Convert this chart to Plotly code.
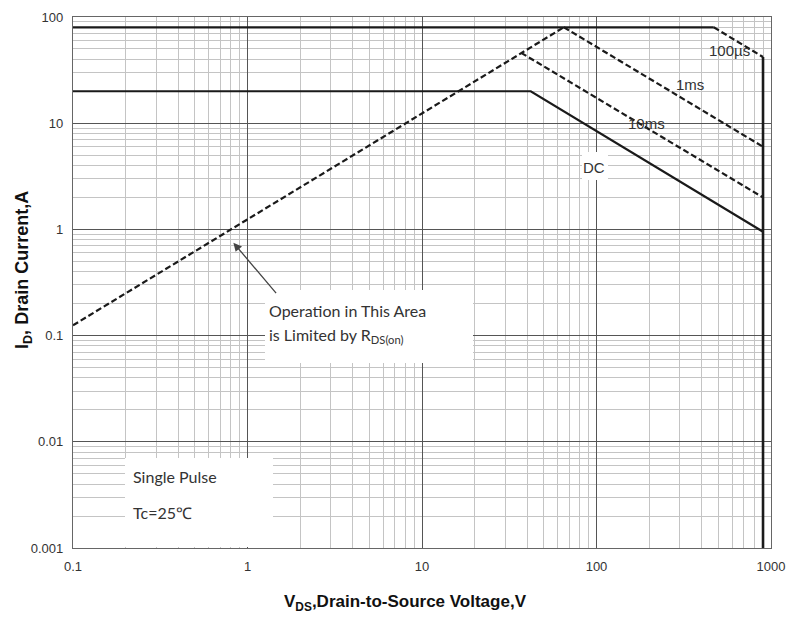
import math
import plotly.graph_objects as go

# ---- data ----
rds_v = [0.1, 65]
rds_i = [0.125, 80]

us100_flat_v = [0.1, 470]
us100_flat_i = [80, 80]
us100_drop_v = [470, 900]
us100_drop_i = [80, 42]

ms1_v = [65, 900]
ms1_i = [80, 6]

ms10_v = [37, 900]
ms10_i = [46, 2]

dc_v = [0.1, 42, 900]
dc_i = [20, 20, 0.95]

bv_v = [900, 900]
bv_i = [42, 0.001]

x_ticks = [0.1, 1, 10, 100, 1000]
x_ticktext = ["0.1", "1", "10", "100", "1000"]
y_ticks = [0.001, 0.01, 0.1, 1, 10, 100]
y_ticktext = ["0.001", "0.01", "0.1", "1", "10", "100"]

labels = ["100µs", "1ms", "10ms", "DC"]
label_v = [582, 343, 194, 97]
label_i = [48.9, 22.9, 10.0, 3.8]

LINE = "#1a1a1a"
DASH = "6px,3px"
fig = go.Figure()

def add(x, y, dash="solid", w=2.2):
    fig.add_trace(go.Scatter(x=x, y=y, mode="lines",
                             line=dict(color=LINE, width=w, dash=dash),
                             showlegend=False, hoverinfo="skip"))

add(rds_v, rds_i, dash=DASH)
add(us100_flat_v, us100_flat_i)
add(us100_drop_v, us100_drop_i, dash=DASH)
add(ms1_v, ms1_i, dash=DASH)
add(ms10_v, ms10_i, dash=DASH)
add(dc_v, dc_i)
add(bv_v, bv_i, w=2.6)

L, R, T, B = 73, 18, 17, 75
W, H = 789, 623
pw, ph = W - L - R, H - T - B
XR = (-1, 3)
YR = (-3, 2)

def px(xp):
    return (xp - L) / pw

def py(yp):
    return (H - B - yp) / ph

def xd(xp):  # pixel -> data value on the log x axis
    return 10 ** (XR[0] + px(xp) * (XR[1] - XR[0]))

def yd(yp):
    return 10 ** (YR[0] + py(yp) * (YR[1] - YR[0]))

# white boxes, drawn between the gridlines and the traces
def box(x0, x1, y0, y1):
    fig.add_shape(type="rect", xref="x", yref="y", layer="between",
                  x0=xd(x0), x1=xd(x1), y0=yd(y1), y1=yd(y0),
                  fillcolor="white", line=dict(width=0))

box(265, 473, 290, 363)
box(125, 273, 458, 547)
box(582, 608, 152, 180)

lab_font = dict(family="Liberation Sans Narrow, Liberation Sans, Arial", size=15, color="#333")
for t, xv, yv in zip(labels, label_v, label_i):
    fig.add_annotation(x=math.log10(xv), y=math.log10(yv), xref="x", yref="y",
                       text=t, showarrow=False, font=lab_font)

note_font = dict(family="Lato, Open Sans, sans-serif", size=16, color="#333")

def note(xp, yp, text):
    fig.add_annotation(xref="paper", yref="paper", x=px(xp), y=py(yp),
                       xanchor="left", yanchor="middle",
                       text=text, showarrow=False, font=note_font)

note(267, 310, "Operation in This Area")
note(267, 335, "is Limited by R<sub>DS(on)</sub>")
note(131, 477, "Single Pulse")
note(131, 512, "Tc=25℃")

# arrow pointing to the RDS(on) line
fig.add_annotation(x=math.log10(0.83), y=math.log10(0.75), xref="x", yref="y",
                   text="", showarrow=True, arrowhead=2, arrowsize=1.3, arrowwidth=1.3,
                   arrowcolor="#444", ax=44, ay=52, axref="pixel", ayref="pixel")

# axis titles
fig.add_annotation(xref="paper", yref="paper", x=px(405), y=py(603),
                   xanchor="center", yanchor="middle",
                   text="V<sub>DS</sub>,Drain-to-Source Voltage,V", showarrow=False,
                   font=dict(family="Liberation Sans, Arial", size=17, color="#111", weight="bold"))
fig.add_annotation(xref="paper", yref="paper", x=px(23), y=py(270), textangle=-90,
                   xanchor="center", yanchor="middle",
                   text="I<sub>D</sub>, Drain Current,A", showarrow=False,
                   font=dict(family="Liberation Sans, Arial", size=18, color="#111", weight="bold"))

tick_font = dict(family="Liberation Sans, Arial", size=13, color="#333")
axis_common = dict(type="log", showgrid=True, gridcolor="#555", gridwidth=1.2,
                   showline=True, linecolor="#666", linewidth=1.2, mirror=True,
                   ticks="", tickfont=tick_font, zeroline=False, automargin=False,
                   minor=dict(showgrid=True, gridcolor="#c4c4c4", gridwidth=1, dtick="D1"))

fig.update_xaxes(range=list(XR), tickvals=x_ticks, ticktext=x_ticktext,
                 ticklabelstandoff=6, **axis_common)
fig.update_yaxes(range=list(YR), tickvals=y_ticks, ticktext=y_ticktext,
                 ticklabelstandoff=6, **axis_common)

fig.update_layout(width=W, height=H, margin=dict(l=L, r=R, t=T, b=B),
                  plot_bgcolor="white", paper_bgcolor="white", showlegend=False)

fig.write_html("out.html", config={"displayModeBar": False},
               post_script="document.body.style.margin='0';document.body.style.overflow='hidden';")
